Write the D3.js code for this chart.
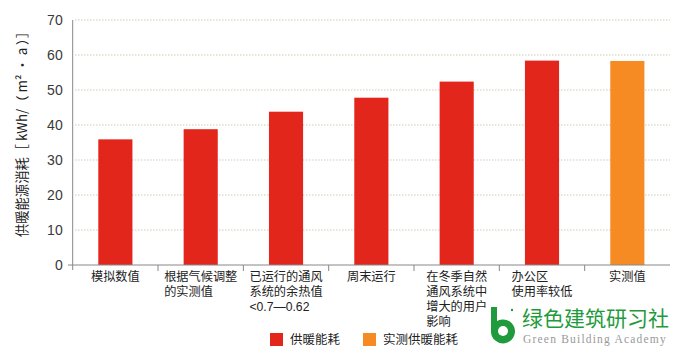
<!DOCTYPE html>
<html><head><meta charset="utf-8">
<script src="https://cdn.jsdelivr.net/npm/d3@7"></script>
<style>body{margin:0;background:#fff;}svg{display:block;}</style>
</head><body>
<svg id="c" width="700" height="364"></svg>
<script>
const categories = [
  ["模拟数值"],
  ["根据气候调整","的实测值"],
  ["已运行的通风","系统的余热值","<0.7—0.62"],
  ["周末运行"],
  ["在冬季自然","通风系统中","增大的用户","影响"],
  ["办公区","使用率较低"],
  ["实测值"]
];
const values = [35.9, 38.8, 43.8, 47.8, 52.4, 58.4, 58.3];
const seriesType = ["calc","calc","calc","calc","calc","calc","measured"];
const yTicks = [0,10,20,30,40,50,60,70];
const legendItems = [{key:"calc",label:"供暖能耗"},{key:"measured",label:"实测供暖能耗"}];
const yTitle = "供暖能源消耗［ kWh/（ m² · a ）］";

const colors = {calc:"#e3261b", measured:"#f68b24"};
const svg = d3.select("#c");
const font = "'Noto Sans CJK SC','Noto Sans',sans-serif";
const labelFont = "'Liberation Sans','Noto Sans CJK SC',sans-serif";

const x = d3.scaleBand().domain(d3.range(categories.length)).range([72.7,670]).paddingInner(0.6).paddingOuter(0.3);
const y = d3.scaleLinear().domain([0,70]).range([265,20]);

// grid
svg.append("g").selectAll("line").data(yTicks.filter(d=>d>0)).join("line")
  .attr("x1",75).attr("x2",670).attr("y1",d=>y(d)).attr("y2",d=>y(d))
  .attr("stroke","#cfc9b6").attr("stroke-width",1).attr("stroke-dasharray","1.5,1.5");

// bars
svg.append("g").selectAll("rect").data(values).join("rect")
  .attr("x",(d,i)=>x(i)).attr("width",x.bandwidth())
  .attr("y",d=>y(d)).attr("height",d=>y(0)-y(d))
  .attr("fill",(d,i)=>colors[seriesType[i]]);

// y axis
const ya = svg.append("g").attr("transform","translate(72.7,0)")
  .call(d3.axisLeft(y).tickValues(yTicks).tickSize(0).tickPadding(10));
ya.select(".domain").attr("stroke","#888").attr("d","M0,20V270");
ya.selectAll("text").attr("font-family","'Liberation Sans',Arial,sans-serif").attr("font-size",14).attr("fill","#3a3a3a");

// x axis
const xa = svg.append("g").attr("transform","translate(0,265)");
xa.append("line").attr("x1",68).attr("x2",670).attr("y1",0).attr("y2",0).attr("stroke","#888");
const step = x.step();
xa.selectAll("line.t").data(d3.range(1,categories.length)).join("line")
  .attr("class","t").attr("x1",d=>x(d)-x.paddingInner()*step/2).attr("x2",d=>x(d)-x.paddingInner()*step/2)
  .attr("y1",0).attr("y2",6).attr("stroke","#888");

// category labels (one text per line)
categories.forEach((lines,i)=>{
  const g = svg.append("g");
  const ts = lines.map((ln,j)=>g.append("text").attr("x",0).attr("y",281+j*15)
    .attr("font-family",labelFont).attr("font-size",12.2).attr("fill","#222").text(ln));
  const w = d3.max(ts,t=>t.node().getComputedTextLength());
  g.attr("transform",`translate(${x(i)+x.bandwidth()/2-w/2},0)`);
});

// y title
svg.append("text").attr("transform","translate(27,131) rotate(-90)")
  .attr("text-anchor","middle").attr("font-family",font).attr("font-size",13.3).attr("fill","#222")
  .text(yTitle);

// legend
const lg = svg.append("g");
const lx = [270,363];
legendItems.forEach((it,i)=>{
  lg.append("rect").attr("x",lx[i]).attr("y",333).attr("width",13).attr("height",13).attr("fill",colors[it.key]);
  lg.append("text").attr("x",lx[i]+20).attr("y",344).attr("font-family",font).attr("font-size",12.5).attr("fill","#222").text(it.label);
});

// watermark
const wm = svg.append("g");
wm.append("path").attr("d","M491,307 h6 v14 a12,12 0 1,1 -6,10 z").attr("fill","#1f9a3c");
wm.append("circle").attr("cx",503).attr("cy",331).attr("r",5).attr("fill","#fff");
wm.append("circle").attr("cx",512).attr("cy",310).attr("r",1.2).attr("fill","#1f9a3c");
wm.append("text").attr("x",522).attr("y",326).attr("font-family",font).attr("font-size",21).attr("fill","#1f9a3c").text("绿色建筑研习社");
wm.append("text").attr("x",523).attr("y",343).attr("font-family","'Liberation Serif',serif").attr("font-size",11.5).attr("letter-spacing",1.2).attr("fill","#999").text("Green Building Academy");
</script>
</body></html>
